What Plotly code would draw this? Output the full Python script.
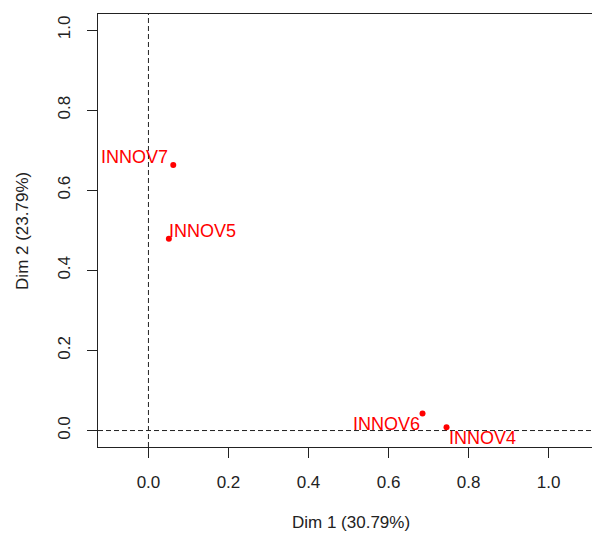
import plotly.graph_objects as go

labels = ["INNOV7", "INNOV5", "INNOV6", "INNOV4"]
dim1 = [0.062, 0.051, 0.685, 0.745]
dim2 = [0.663, 0.479, 0.0425, 0.008]
# label placement relative to each point: (xanchor, xshift, yshift)
label_pos = [("right", -4, 8), ("left", -1, 8), ("right", -2, -10), ("left", 1, -11)]

xticks = [0.0, 0.2, 0.4, 0.6, 0.8, 1.0]
yticks = [0.0, 0.2, 0.4, 0.6, 0.8, 1.0]

FONT = "Liberation Sans, Arial, sans-serif"
RED = "#FF0000"

fig = go.Figure()
fig.add_trace(go.Scatter(
    x=dim1, y=dim2, mode="markers",
    marker=dict(color=RED, size=6, line=dict(width=0)),
    hoverinfo="text", text=labels, showlegend=False,
))

for lab, xv, yv, (xa, xs, ys) in zip(labels, dim1, dim2, label_pos):
    fig.add_annotation(
        x=xv, y=yv, xref="x", yref="y", text=lab, showarrow=False,
        xanchor=xa, yanchor="middle", xshift=xs, yshift=ys,
        font=dict(family=FONT, size=18, color=RED), borderpad=0,
    )

dash_line = dict(color="#222222", width=1, dash="5px,3px")
fig.add_shape(type="line", xref="x", yref="paper", x0=0, x1=0, y0=0, y1=1, line=dash_line, layer="below")
fig.add_shape(type="line", xref="paper", yref="y", x0=0, x1=1, y0=0, y1=0, line=dash_line, layer="below")

fig.add_annotation(text="Dim 1 (30.79%)", xref="paper", yref="paper", x=0.512, y=-0.175,
                   showarrow=False, xanchor="center", yanchor="middle",
                   font=dict(family=FONT, size=17, color="#222222"))
fig.add_annotation(text="Dim 2 (23.79%)", xref="paper", yref="paper", x=-0.153, y=0.5,
                   textangle=-90, showarrow=False, xanchor="center", yanchor="middle",
                   font=dict(family=FONT, size=17, color="#222222"))

fig.update_layout(
    width=592, height=535,
    margin=dict(l=98, r=0, t=14, b=88),
    paper_bgcolor="white", plot_bgcolor="white",
    font=dict(family=FONT, size=17, color="#222222"),
    xaxis=dict(range=[-0.1261, 1.1086], tickvals=xticks, ticktext=[f"{v:.1f}" for v in xticks],
               showgrid=False, zeroline=False, showline=True, mirror=True,
               linecolor="#222222", linewidth=1, ticks="outside", ticklen=10,
               tickcolor="#222222", ticklabelstandoff=10),
    yaxis=dict(range=[-0.0411, 1.040], tickvals=yticks, ticktext=[f"{v:.1f}" for v in yticks],
               showgrid=False, zeroline=False, showline=True, mirror=False,
               linecolor="#222222", linewidth=1, ticks="outside", ticklen=10,
               tickcolor="#222222", tickangle=-90, ticklabelstandoff=10),
)

fig.write_html("out.html", config={"displayModeBar": False},
               post_script="document.body.style.margin='0';document.body.style.overflow='hidden';")
